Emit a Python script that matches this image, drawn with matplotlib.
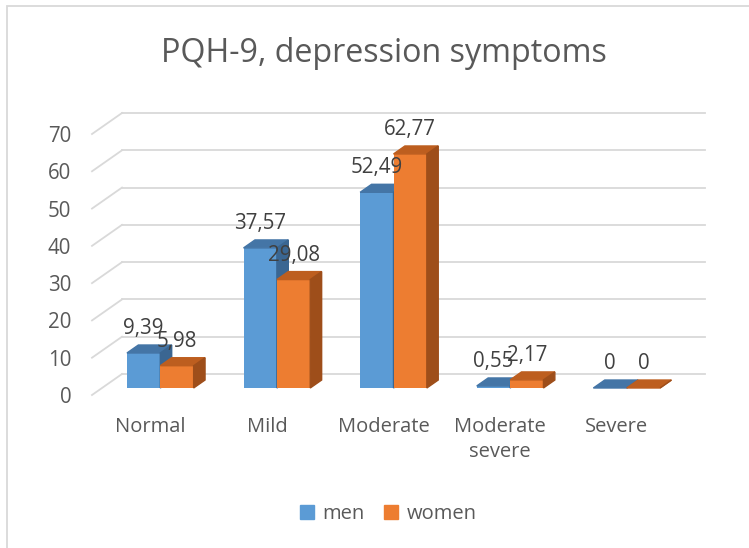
import matplotlib.pyplot as plt
from matplotlib.patches import Polygon, Patch, Rectangle

categories = ['Normal', 'Mild', 'Moderate', 'Moderate\nsevere', 'Severe']
men = [9.39, 37.57, 52.49, 0.55, 0]
women = [5.98, 29.08, 62.77, 2.17, 0]
yticks = [0, 10, 20, 30, 40, 50, 60, 70]

plt.rcParams['font.family'] = ['Open Sans', 'DejaVu Sans']
txt = '#595959'
grid = '#D9D9D9'
colors = {
    'men': ('#5B9BD5', '#4475A6', '#3A6692'),
    'women': ('#ED7D31', '#BD5E1F', '#9E4E1A'),
}

W, H = 749, 548
fig = plt.figure(figsize=(W / 100, H / 100), dpi=100)
ax = fig.add_axes([92 / W, 153 / H, 583 / W, 261 / H])
ax.set_xlim(-0.5, len(categories) - 0.5)
ax.set_ylim(0, 70)

# pixels per data unit, used for the fake 3d depth
sx = 583 / len(categories)
sy = 261 / 70


def shift(d):
    # depth d in 0..1 of the floor -> data offset
    return 30 * d / sx, 21 * d / sy


# back wall gridlines + the slanted ones on the left side wall
bx, by = shift(1)
for v in yticks:
    ax.plot([-0.5 + bx, len(categories) - 0.5 + bx], [v + by, v + by],
            color=grid, lw=1.3, zorder=1, clip_on=False)
    ax.plot([-0.5, -0.5 + bx], [v, v + by], color=grid, lw=1.3, zorder=1, clip_on=False)

w = 0.286
d0, d1 = 1 / 3, 1 / 3 + 0.38
fx, fy = shift(d0)
tx, ty = shift(d1)


def fmt(v):
    return '0' if v == 0 else f'{v:.2f}'.replace('.', ',')


z = 2
for i in range(len(categories)):
    for name, vals, x0 in [('men', men, i - w), ('women', women, i)]:
        h = vals[i]
        front, top, side = colors[name]
        ax.bar(x0 + fx, h, width=w, bottom=fy, align='edge', color=front,
               zorder=z, clip_on=False)
        ax.add_patch(Polygon([(x0 + fx, h + fy), (x0 + w + fx, h + fy),
                              (x0 + w + tx, h + ty), (x0 + tx, h + ty)],
                             closed=True, color=top, zorder=z, clip_on=False))
        ax.add_patch(Polygon([(x0 + w + fx, fy), (x0 + w + fx, h + fy),
                              (x0 + w + tx, h + ty), (x0 + w + tx, ty)],
                             closed=True, color=side, zorder=z, clip_on=False))
        z += 1
        ax.annotate(fmt(h), (x0 + w / 2 + fx, h + fy), xytext=(0, 17.5),
                    textcoords='offset points', ha='center', va='center',
                    fontsize=14.8, color='#404040', zorder=50, annotation_clip=False)

ax.set_yticks(yticks)
ax.set_xticks(range(len(categories)))
ax.set_xticklabels(categories, fontsize=14.5, color=txt, linespacing=1.3)
ax.set_yticklabels([str(t) for t in yticks], fontsize=14.8, color=txt)
ax.tick_params(axis='x', length=0, pad=16)
ax.tick_params(axis='y', length=0, pad=15)
for s in ax.spines.values():
    s.set_visible(False)
ax.patch.set_visible(False)

fig.text(384 / W, 1 - 62 / H, 'PQH-9, depression symptoms', ha='center',
         va='baseline', fontsize=23.2, color=txt)

handles = [Patch(color=colors['men'][0], label='men'),
           Patch(color=colors['women'][0], label='women')]
fig.legend(handles=handles, loc='center', bbox_to_anchor=(388 / W, 1 - 514 / H),
           ncol=2, frameon=False, fontsize=14.5, labelcolor=txt,
           handlelength=0.7, handleheight=0.7, handletextpad=0.4, columnspacing=1.0)

fig.patches.append(Rectangle((7 / W, -0.1), 1.2, (H - 6) / H + 0.1,
                             transform=fig.transFigure, fill=False,
                             edgecolor=grid, lw=1.3))

fig.savefig('out.png', dpi=100)
